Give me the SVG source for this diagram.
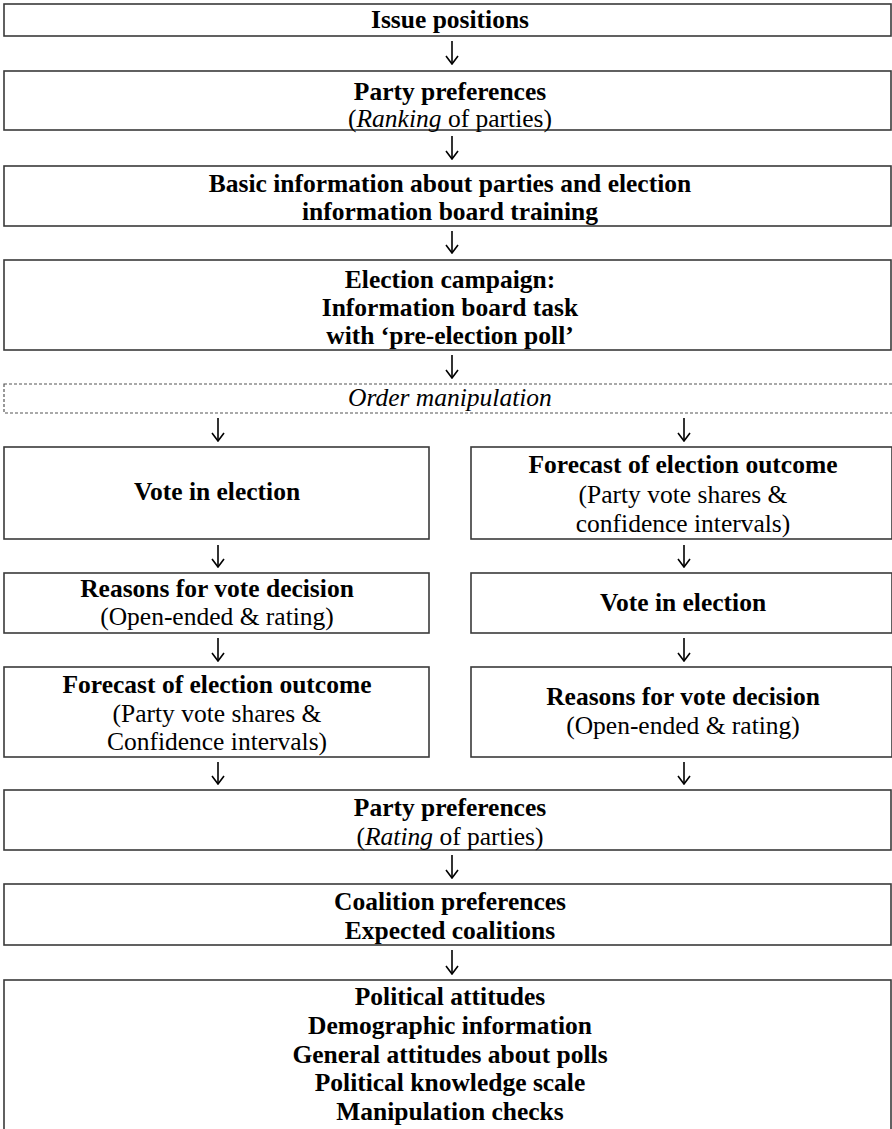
<svg xmlns="http://www.w3.org/2000/svg" width="892" height="1129" viewBox="0 0 892 1129">
<defs>
<marker id="ah" viewBox="0 0 10 14" refX="9" refY="7" markerWidth="10" markerHeight="14" markerUnits="userSpaceOnUse" orient="auto">
<path d="M1,1 L9,7 L1,13" fill="none" stroke="#000" stroke-width="1.6"/>
</marker>
<style>
rect.b{fill:#fff;stroke:#3a3a3a;stroke-width:1.6}
rect.d{fill:#fff;stroke:#555;stroke-width:1.2;stroke-dasharray:3,2}
text{font-family:"Liberation Serif","Times New Roman",serif;font-size:25.5px;fill:#000;text-anchor:middle}
.bo{font-weight:bold}
.it{font-style:italic}
line.c{stroke:#000;stroke-width:1.6;marker-end:url(#ah)}
</style>
</defs>
<rect width="892" height="1129" fill="#fff"/>
<g id="n1"><rect class="b" x="4" y="4" width="887" height="32"/><text class="bo" x="450" y="28">Issue positions</text></g>
<g id="n2"><rect class="b" x="4" y="71" width="887" height="59"/><text class="bo" x="450" y="100">Party preferences</text><text x="450" y="127">(<tspan class="it">Ranking</tspan> of parties)</text></g>
<g id="n3"><rect class="b" x="4" y="166" width="887" height="60"/><text class="bo" x="450" y="192">Basic information about parties and election</text><text class="bo" x="450" y="220">information board training</text></g>
<g id="n4"><rect class="b" x="4" y="260" width="887" height="90"/><text class="bo" x="450" y="288">Election campaign:</text><text class="bo" x="450" y="316">Information board task</text><text class="bo" x="450" y="344">with ‘pre-election poll’</text></g>
<g id="n5"><rect class="d" x="4" y="384" width="890" height="29"/><text class="it" x="450" y="406">Order manipulation</text></g>
<g id="l1"><rect class="b" x="4" y="447" width="425" height="92"/><text class="bo" x="217" y="500">Vote in election</text></g>
<g id="r1"><rect class="b" x="471" y="447" width="421" height="92"/><text class="bo" x="683" y="473">Forecast of election outcome</text><text x="683" y="503">(Party vote shares &amp;</text><text x="683" y="532">confidence intervals)</text></g>
<g id="l2"><rect class="b" x="4" y="573" width="425" height="60"/><text class="bo" x="217" y="597">Reasons for vote decision</text><text x="217" y="625">(Open-ended &amp; rating)</text></g>
<g id="r2"><rect class="b" x="471" y="573" width="421" height="60"/><text class="bo" x="683" y="611">Vote in election</text></g>
<g id="l3"><rect class="b" x="4" y="667" width="425" height="90"/><text class="bo" x="217" y="693">Forecast of election outcome</text><text x="217" y="722">(Party vote shares &amp;</text><text x="217" y="750">Confidence intervals)</text></g>
<g id="r3"><rect class="b" x="471" y="667" width="421" height="90"/><text class="bo" x="683" y="705">Reasons for vote decision</text><text x="683" y="734">(Open-ended &amp; rating)</text></g>
<g id="n6"><rect class="b" x="4" y="790" width="887" height="60"/><text class="bo" x="450" y="816">Party preferences</text><text x="450" y="845">(<tspan class="it">Rating</tspan> of parties)</text></g>
<g id="n7"><rect class="b" x="4" y="884" width="887" height="61"/><text class="bo" x="450" y="910">Coalition preferences</text><text class="bo" x="450" y="939">Expected coalitions</text></g>
<g id="n8"><rect class="b" x="4" y="980" width="887" height="160"/><text class="bo" x="450" y="1005">Political attitudes</text><text class="bo" x="450" y="1034">Demographic information</text><text class="bo" x="450" y="1063">General attitudes about polls</text><text class="bo" x="450" y="1091">Political knowledge scale</text><text class="bo" x="450" y="1120">Manipulation checks</text></g>
<g id="connectors">
<line class="c" x1="452" y1="41" x2="452" y2="64"/>
<line class="c" x1="452" y1="136" x2="452" y2="159"/>
<line class="c" x1="452" y1="231" x2="452" y2="253"/>
<line class="c" x1="452" y1="355" x2="452" y2="378"/>
<line class="c" x1="218" y1="418" x2="218" y2="441"/>
<line class="c" x1="684" y1="418" x2="684" y2="441"/>
<line class="c" x1="218" y1="545" x2="218" y2="567"/>
<line class="c" x1="684" y1="545" x2="684" y2="567"/>
<line class="c" x1="218" y1="638" x2="218" y2="661"/>
<line class="c" x1="684" y1="638" x2="684" y2="661"/>
<line class="c" x1="218" y1="762" x2="218" y2="784"/>
<line class="c" x1="684" y1="762" x2="684" y2="784"/>
<line class="c" x1="452" y1="855" x2="452" y2="878"/>
<line class="c" x1="452" y1="950" x2="452" y2="974"/>
</g>
</svg>
